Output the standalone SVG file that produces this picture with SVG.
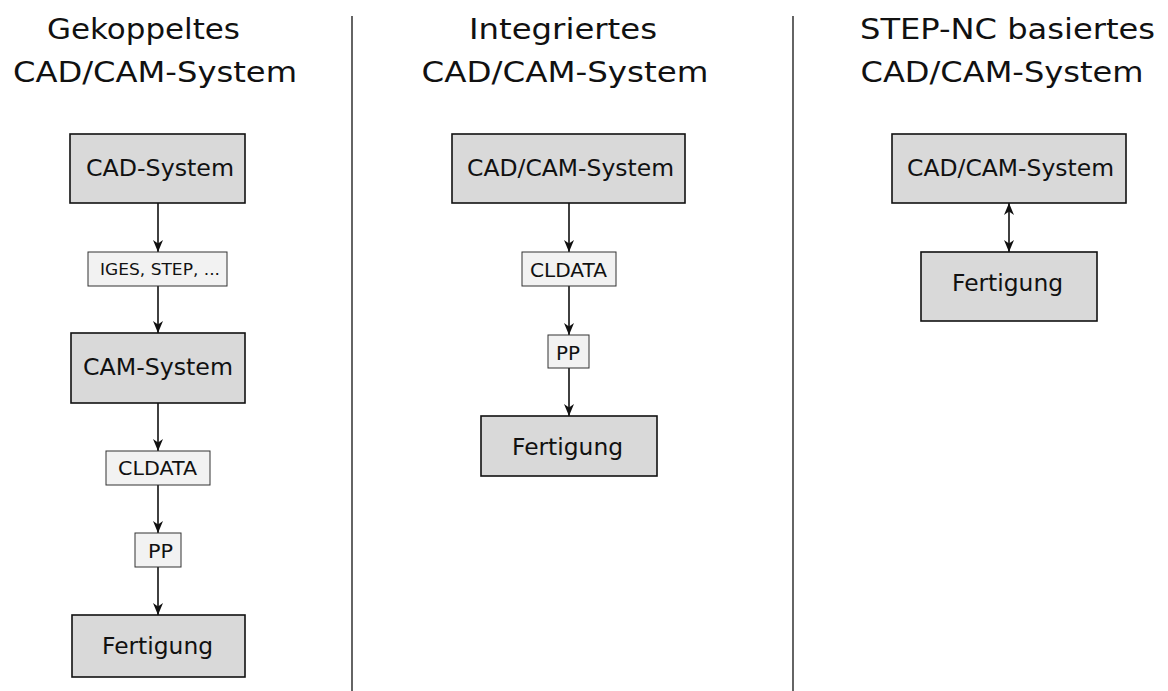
<svg xmlns="http://www.w3.org/2000/svg" width="1168" height="691" viewBox="0 0 1168 691">
<defs>
<style>
text{font-family:"DejaVu Sans","Liberation Sans",sans-serif;fill:#111;}
.title{font-size:28px;text-anchor:middle;}
.big rect{fill:#d9d9d9;stroke:#111;stroke-width:1.6;}
.small rect{fill:#f2f2f2;stroke:#333;stroke-width:1;}
.big text{font-size:23px;text-anchor:middle;}
.small text{font-size:19px;text-anchor:middle;}
.small text.tiny{font-size:15.5px;}
.conn line{stroke:#111;stroke-width:1.6;fill:none;}
.sep{stroke:#111;stroke-width:1.3;}
</style>
<marker id="ah" viewBox="0 0 12 10" refX="12" refY="5" markerWidth="12" markerHeight="10" markerUnits="userSpaceOnUse" orient="auto-start-reverse">
<path d="M0,0 L12,5 L0,10 L3.5,5 z" fill="#111"/>
</marker>
</defs>
<rect width="1168" height="691" fill="#fff"/>

<g id="titles">
<text class="title" x="143.5" y="39" textLength="193" lengthAdjust="spacingAndGlyphs">Gekoppeltes</text>
<text class="title" x="155" y="82" textLength="284" lengthAdjust="spacingAndGlyphs">CAD/CAM-System</text>
<text class="title" x="563" y="39" textLength="188" lengthAdjust="spacingAndGlyphs">Integriertes</text>
<text class="title" x="565" y="82" textLength="287" lengthAdjust="spacingAndGlyphs">CAD/CAM-System</text>
<text class="title" x="1007.5" y="39" textLength="295" lengthAdjust="spacingAndGlyphs">STEP-NC basiertes</text>
<text class="title" x="1002" y="82" textLength="283" lengthAdjust="spacingAndGlyphs">CAD/CAM-System</text>
</g>

<g id="separators">
<line class="sep" x1="352" y1="16" x2="352" y2="691"/>
<line class="sep" x1="793" y1="16" x2="793" y2="691"/>
</g>

<g id="connectors" class="conn">
<line x1="158" y1="203" x2="158" y2="252" marker-end="url(#ah)"/>
<line x1="158" y1="286" x2="158" y2="333" marker-end="url(#ah)"/>
<line x1="158" y1="403" x2="158" y2="451" marker-end="url(#ah)"/>
<line x1="158" y1="485" x2="158" y2="533" marker-end="url(#ah)"/>
<line x1="158" y1="567" x2="158" y2="615" marker-end="url(#ah)"/>
<line x1="569" y1="203" x2="569" y2="252" marker-end="url(#ah)"/>
<line x1="569" y1="286" x2="569" y2="335" marker-end="url(#ah)"/>
<line x1="569" y1="368" x2="569" y2="416" marker-end="url(#ah)"/>
<line x1="1009" y1="203" x2="1009" y2="252" marker-start="url(#ah)" marker-end="url(#ah)"/>
</g>

<g id="n-cad" class="big">
<rect x="70" y="134" width="175" height="69"/>
<text x="160" y="176" textLength="148" lengthAdjust="spacingAndGlyphs">CAD-System</text>
</g>
<g id="n-iges" class="small">
<rect x="88" y="252" width="139" height="34"/>
<text class="tiny" x="160" y="275" textLength="120" lengthAdjust="spacingAndGlyphs">IGES, STEP, ...</text>
</g>
<g id="n-cam" class="big">
<rect x="71" y="333" width="174" height="70"/>
<text x="158" y="375" textLength="150" lengthAdjust="spacingAndGlyphs">CAM-System</text>
</g>
<g id="n-cldata1" class="small">
<rect x="106" y="451" width="104" height="34"/>
<text x="157.5" y="475" textLength="79" lengthAdjust="spacingAndGlyphs">CLDATA</text>
</g>
<g id="n-pp1" class="small">
<rect x="135" y="533" width="46" height="34"/>
<text x="160.5" y="558" textLength="25" lengthAdjust="spacingAndGlyphs">PP</text>
</g>
<g id="n-fert1" class="big">
<rect x="72" y="615" width="173" height="62"/>
<text x="157.5" y="654" textLength="111" lengthAdjust="spacingAndGlyphs">Fertigung</text>
</g>

<g id="n-cadcam2" class="big">
<rect x="452" y="134" width="233" height="69"/>
<text x="570.5" y="176" textLength="207" lengthAdjust="spacingAndGlyphs">CAD/CAM-System</text>
</g>
<g id="n-cldata2" class="small">
<rect x="522" y="252" width="94" height="34"/>
<text x="568.5" y="277" textLength="77" lengthAdjust="spacingAndGlyphs">CLDATA</text>
</g>
<g id="n-pp2" class="small">
<rect x="548" y="335" width="41" height="33"/>
<text x="568" y="360" textLength="24" lengthAdjust="spacingAndGlyphs">PP</text>
</g>
<g id="n-fert2" class="big">
<rect x="481" y="416" width="176" height="60"/>
<text x="567.5" y="455" textLength="111" lengthAdjust="spacingAndGlyphs">Fertigung</text>
</g>

<g id="n-cadcam3" class="big">
<rect x="892" y="134" width="234" height="69"/>
<text x="1010.5" y="176" textLength="207" lengthAdjust="spacingAndGlyphs">CAD/CAM-System</text>
</g>
<g id="n-fert3" class="big">
<rect x="921" y="252" width="176" height="69"/>
<text x="1007.5" y="291" textLength="111" lengthAdjust="spacingAndGlyphs">Fertigung</text>
</g>
</svg>
